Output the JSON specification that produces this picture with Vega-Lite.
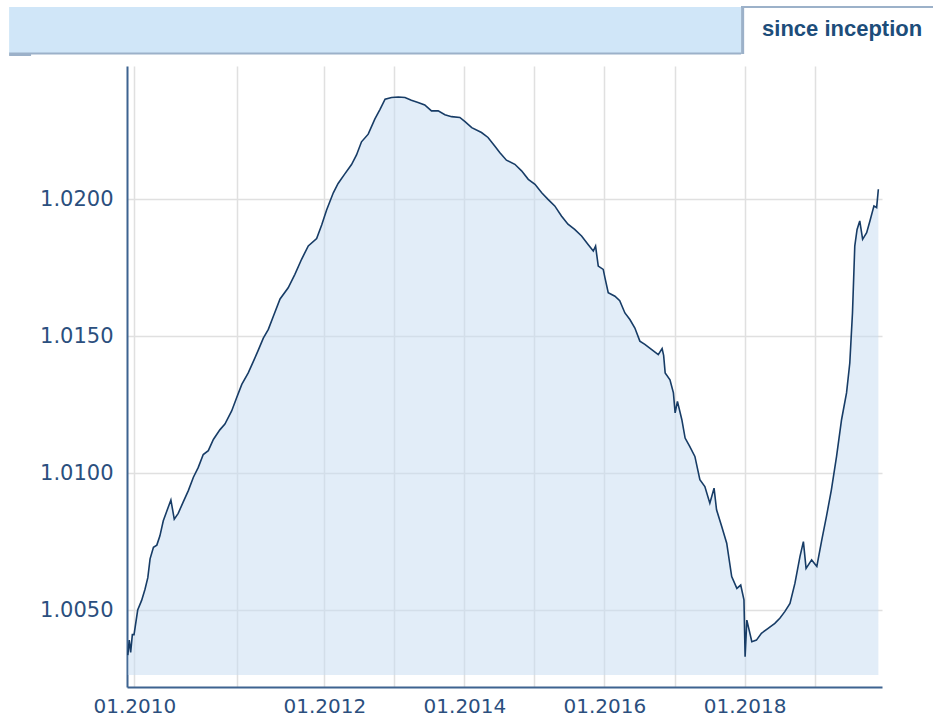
{
  "$schema": "https://vega.github.io/schema/vega-lite/v6.json",
  "width": 755,
  "height": 621,
  "autosize": {"type": "none"},
  "padding": {"left": 127, "top": 66, "right": 51, "bottom": 31},
  "background": "white",
  "config": {"view": {"stroke": null}, "font": "DejaVu Sans"},
  "data": {"format": {"parse": {"date": "date"}}, "values": [
    {"date": "2009-12-09", "nav": 1.00335},
    {"date": "2009-12-14", "nav": 1.0039},
    {"date": "2009-12-19", "nav": 1.00345},
    {"date": "2009-12-25", "nav": 1.0041},
    {"date": "2009-12-31", "nav": 1.0041},
    {"date": "2010-01-13", "nav": 1.0050},
    {"date": "2010-01-27", "nav": 1.00535},
    {"date": "2010-02-08", "nav": 1.00576},
    {"date": "2010-02-18", "nav": 1.00618},
    {"date": "2010-02-26", "nav": 1.00687},
    {"date": "2010-03-10", "nav": 1.00729},
    {"date": "2010-03-22", "nav": 1.00737},
    {"date": "2010-04-02", "nav": 1.00771},
    {"date": "2010-04-14", "nav": 1.00826},
    {"date": "2010-04-26", "nav": 1.0086},
    {"date": "2010-05-11", "nav": 1.00902},
    {"date": "2010-05-23", "nav": 1.00832},
    {"date": "2010-06-06", "nav": 1.00853},
    {"date": "2010-06-24", "nav": 1.00895},
    {"date": "2010-07-12", "nav": 1.00936},
    {"date": "2010-07-30", "nav": 1.00985},
    {"date": "2010-08-16", "nav": 1.0102},
    {"date": "2010-09-03", "nav": 1.01068},
    {"date": "2010-09-21", "nav": 1.01082},
    {"date": "2010-10-09", "nav": 1.01123},
    {"date": "2010-11-01", "nav": 1.01158},
    {"date": "2010-11-19", "nav": 1.01179},
    {"date": "2010-12-13", "nav": 1.01227},
    {"date": "2010-12-31", "nav": 1.01276},
    {"date": "2011-01-21", "nav": 1.01324},
    {"date": "2011-02-17", "nav": 1.01366},
    {"date": "2011-03-10", "nav": 1.01407},
    {"date": "2011-03-31", "nav": 1.01449},
    {"date": "2011-04-21", "nav": 1.01493},
    {"date": "2011-05-12", "nav": 1.01525},
    {"date": "2011-06-02", "nav": 1.01573},
    {"date": "2011-06-30", "nav": 1.01636},
    {"date": "2011-08-03", "nav": 1.01677},
    {"date": "2011-08-31", "nav": 1.01726},
    {"date": "2011-09-28", "nav": 1.01781},
    {"date": "2011-10-26", "nav": 1.0183},
    {"date": "2011-11-30", "nav": 1.01857},
    {"date": "2011-12-21", "nav": 1.01906},
    {"date": "2012-01-13", "nav": 1.01961},
    {"date": "2012-02-17", "nav": 1.02024},
    {"date": "2012-03-13", "nav": 1.02058},
    {"date": "2012-04-17", "nav": 1.02093},
    {"date": "2012-05-22", "nav": 1.02127},
    {"date": "2012-06-17", "nav": 1.02162},
    {"date": "2012-07-13", "nav": 1.0221},
    {"date": "2012-08-17", "nav": 1.02238},
    {"date": "2012-09-21", "nav": 1.02294},
    {"date": "2012-10-17", "nav": 1.02328},
    {"date": "2012-11-13", "nav": 1.02366},
    {"date": "2012-12-17", "nav": 1.02372},
    {"date": "2013-01-21", "nav": 1.02374},
    {"date": "2013-02-25", "nav": 1.02372},
    {"date": "2013-03-30", "nav": 1.02362},
    {"date": "2013-05-04", "nav": 1.02354},
    {"date": "2013-06-08", "nav": 1.02345},
    {"date": "2013-07-13", "nav": 1.02323},
    {"date": "2013-08-17", "nav": 1.02323},
    {"date": "2013-09-21", "nav": 1.02309},
    {"date": "2013-10-26", "nav": 1.02302},
    {"date": "2013-12-08", "nav": 1.02299},
    {"date": "2014-01-04", "nav": 1.02284},
    {"date": "2014-02-08", "nav": 1.02262},
    {"date": "2014-03-31", "nav": 1.02244},
    {"date": "2014-05-04", "nav": 1.02226},
    {"date": "2014-06-08", "nav": 1.02195},
    {"date": "2014-07-04", "nav": 1.02171},
    {"date": "2014-08-08", "nav": 1.02143},
    {"date": "2014-09-21", "nav": 1.02128},
    {"date": "2014-10-26", "nav": 1.02104},
    {"date": "2014-11-30", "nav": 1.02073},
    {"date": "2015-01-04", "nav": 1.02055},
    {"date": "2015-02-08", "nav": 1.02024},
    {"date": "2015-03-13", "nav": 1.0200},
    {"date": "2015-04-17", "nav": 1.01976},
    {"date": "2015-05-22", "nav": 1.01939},
    {"date": "2015-06-25", "nav": 1.01909},
    {"date": "2015-07-30", "nav": 1.0189},
    {"date": "2015-09-04", "nav": 1.01866},
    {"date": "2015-10-08", "nav": 1.01835},
    {"date": "2015-11-04", "nav": 1.01811},
    {"date": "2015-11-16", "nav": 1.01829},
    {"date": "2015-11-30", "nav": 1.01756},
    {"date": "2015-12-26", "nav": 1.01744},
    {"date": "2016-01-04", "nav": 1.01713},
    {"date": "2016-01-21", "nav": 1.01659},
    {"date": "2016-02-25", "nav": 1.01646},
    {"date": "2016-03-21", "nav": 1.0163},
    {"date": "2016-04-17", "nav": 1.01585},
    {"date": "2016-05-13", "nav": 1.01561},
    {"date": "2016-06-08", "nav": 1.0153},
    {"date": "2016-07-04", "nav": 1.01482},
    {"date": "2016-07-30", "nav": 1.0147},
    {"date": "2016-09-04", "nav": 1.01451},
    {"date": "2016-10-08", "nav": 1.01433},
    {"date": "2016-10-28", "nav": 1.01455},
    {"date": "2016-11-05", "nav": 1.0143},
    {"date": "2016-11-13", "nav": 1.01366},
    {"date": "2016-12-08", "nav": 1.01341},
    {"date": "2016-12-26", "nav": 1.01293},
    {"date": "2017-01-04", "nav": 1.0122},
    {"date": "2017-01-16", "nav": 1.01262},
    {"date": "2017-02-08", "nav": 1.01195},
    {"date": "2017-02-25", "nav": 1.01128},
    {"date": "2017-03-21", "nav": 1.01098},
    {"date": "2017-04-17", "nav": 1.01061},
    {"date": "2017-05-13", "nav": 1.00976},
    {"date": "2017-06-08", "nav": 1.00951},
    {"date": "2017-07-04", "nav": 1.0089},
    {"date": "2017-07-26", "nav": 1.00945},
    {"date": "2017-08-08", "nav": 1.00866},
    {"date": "2017-09-04", "nav": 1.00805},
    {"date": "2017-09-30", "nav": 1.00744},
    {"date": "2017-10-26", "nav": 1.00622},
    {"date": "2017-11-22", "nav": 1.00579},
    {"date": "2017-12-12", "nav": 1.00591},
    {"date": "2017-12-29", "nav": 1.00537},
    {"date": "2018-01-04", "nav": 1.00329},
    {"date": "2018-01-13", "nav": 1.00463},
    {"date": "2018-02-08", "nav": 1.00384},
    {"date": "2018-03-04", "nav": 1.0039},
    {"date": "2018-03-30", "nav": 1.00415},
    {"date": "2018-05-04", "nav": 1.00433},
    {"date": "2018-06-08", "nav": 1.00451},
    {"date": "2018-07-04", "nav": 1.0047},
    {"date": "2018-07-30", "nav": 1.00494},
    {"date": "2018-08-26", "nav": 1.00524},
    {"date": "2018-09-21", "nav": 1.00598},
    {"date": "2018-10-17", "nav": 1.00695},
    {"date": "2018-11-04", "nav": 1.0075},
    {"date": "2018-11-18", "nav": 1.00652},
    {"date": "2018-12-17", "nav": 1.00683},
    {"date": "2019-01-13", "nav": 1.00659},
    {"date": "2019-02-08", "nav": 1.00756},
    {"date": "2019-03-04", "nav": 1.00841},
    {"date": "2019-03-30", "nav": 1.00939},
    {"date": "2019-04-26", "nav": 1.01061},
    {"date": "2019-05-22", "nav": 1.01195},
    {"date": "2019-06-17", "nav": 1.01293},
    {"date": "2019-07-04", "nav": 1.01402},
    {"date": "2019-07-18", "nav": 1.01585},
    {"date": "2019-07-30", "nav": 1.01829},
    {"date": "2019-08-11", "nav": 1.0189},
    {"date": "2019-08-25", "nav": 1.01921},
    {"date": "2019-09-09", "nav": 1.01854},
    {"date": "2019-09-30", "nav": 1.01878},
    {"date": "2019-10-17", "nav": 1.01921},
    {"date": "2019-11-07", "nav": 1.01976},
    {"date": "2019-11-21", "nav": 1.0197},
    {"date": "2019-11-30", "nav": 1.02037}
  ]},
  "layer": [
    {
      "mark": {"type": "area", "color": "#c6dcf2", "opacity": 0.5},
      "encoding": {
        "x": {
          "field": "date", "type": "quantitative",
          "scale": {"type": "linear", "nice": false, "zero": false, "domain": [1260057600000, 1293840000000, 1325376000000, 1576713600000], "range": [0, 110, 197.3, 755]},
          "axis": {
            "title": null,
            "values": [1262304000000, 1293840000000, 1325376000000, 1356998400000, 1388534400000, 1420070400000, 1451606400000, 1483228800000, 1514764800000, 1546300800000],
            "labelExpr": "utcyear(datum.value) % 2 == 0 ? utcFormat(datum.value, '%m.%Y') : ''",
            "labelOverlap": false,
            "labelFlush": false,
            "labelBound": false,
            "ticks": false,
            "labelPadding": 9,
            "labelFontSize": 20,
            "labelFont": "DejaVu Sans",
            "labelColor": "#2b4f7e",
            "domainColor": "#3d6390",
            "domainWidth": 2,
            "grid": true,
            "gridColor": "#e0e0e0",
            "gridWidth": 1.5
          }
        },
        "y": {
          "field": "nav", "type": "quantitative",
          "scale": {"domain": [1.002188, 1.02487], "nice": false, "zero": false},
          "axis": {
            "title": null,
            "values": [1.005, 1.01, 1.015, 1.02],
            "format": ".4f",
            "ticks": false,
            "labelPadding": 14,
            "labelFontSize": 21,
            "labelFont": "DejaVu Sans",
            "labelColor": "#2b4f7e",
            "domainColor": "#3d6390",
            "domainWidth": 2,
            "grid": true,
            "gridColor": "#e0e0e0",
            "gridWidth": 1.5
          }
        },
        "y2": {"datum": 1.002626}
      }
    },
    {
      "mark": {"type": "line", "color": "#173c66", "strokeWidth": 1.6},
      "encoding": {
        "x": {"field": "date", "type": "quantitative"},
        "y": {"field": "nav", "type": "quantitative"}
      }
    },
    {
      "data": {"values": [{}]},
      "mark": {"type": "rect", "color": "#d0e6f8", "clip": false},
      "encoding": {
        "x": {"datum": 1223856000000, "type": "quantitative"},
        "x2": {"datum": 1513209600000},
        "y": {"datum": 1.027025, "type": "quantitative"},
        "y2": {"datum": 1.025345}
      }
    },
    {
      "data": {"values": [{}]},
      "mark": {"type": "rect", "color": "#9cb1c9", "clip": false},
      "encoding": {
        "x": {"datum": 1223856000000, "type": "quantitative"},
        "x2": {"datum": 1513209600000},
        "y": {"datum": 1.025363, "type": "quantitative"},
        "y2": {"datum": 1.02529}
      }
    },
    {
      "data": {"values": [{}]},
      "mark": {"type": "rect", "color": "#9cb1c9", "clip": false},
      "encoding": {
        "x": {"datum": 1223856000000, "type": "quantitative"},
        "x2": {"datum": 1230595200000},
        "y": {"datum": 1.02531, "type": "quantitative"},
        "y2": {"datum": 1.025235}
      }
    },
    {
      "data": {"values": [{}]},
      "mark": {"type": "rect", "color": "#9cb1c9", "clip": false},
      "encoding": {
        "x": {"datum": 1513209600000, "type": "quantitative"},
        "x2": {"datum": 1514592000000},
        "y": {"datum": 1.027062, "type": "quantitative"},
        "y2": {"datum": 1.025308}
      }
    },
    {
      "data": {"values": [{}]},
      "mark": {"type": "rect", "color": "#9cb1c9", "clip": false},
      "encoding": {
        "x": {"datum": 1513209600000, "type": "quantitative"},
        "x2": {"datum": 1602892800000},
        "y": {"datum": 1.027062, "type": "quantitative"},
        "y2": {"datum": 1.026988}
      }
    },
    {
      "data": {"values": [{}]},
      "mark": {"type": "text", "text": "since inception", "font": "Liberation Sans", "fontWeight": "bold", "fontSize": 22, "color": "#1d4d7a", "align": "center", "baseline": "middle", "clip": false},
      "encoding": {
        "x": {"datum": 1558742400000, "type": "quantitative"},
        "y": {"datum": 1.026221, "type": "quantitative"}
      }
    }
  ]
}
